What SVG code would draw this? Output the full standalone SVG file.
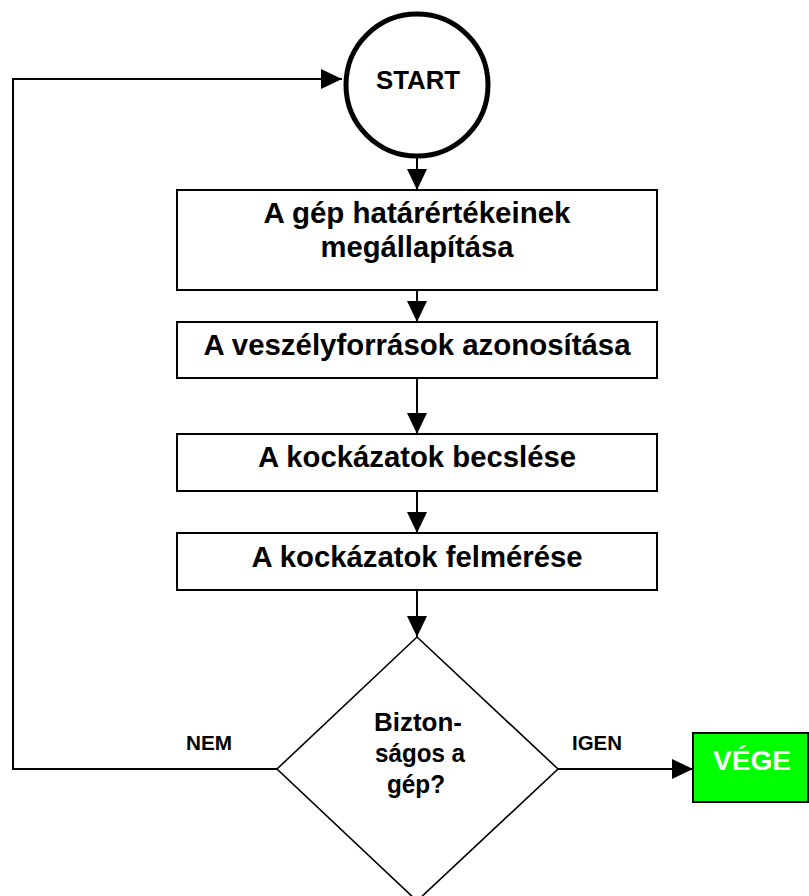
<svg xmlns="http://www.w3.org/2000/svg" width="809" height="896" viewBox="0 0 809 896">
  <defs>
    <marker id="arrow" viewBox="0 0 21 20" refX="21" refY="10" markerWidth="21" markerHeight="20" markerUnits="userSpaceOnUse" orient="auto">
      <path d="M0,0 L21,10 L0,20 Z" fill="#000"/>
    </marker>
    <style>
      text { font-family: "Liberation Sans", Arial, sans-serif; font-weight: bold; fill: #000; text-anchor: middle; }
      .box { fill: #fff; stroke: #000; stroke-width: 2; }
      .bt { font-size: 29px; }
      .conn { fill: none; stroke: #000; stroke-width: 2; }
      .lbl { font-size: 20px; }
      .dt { font-size: 25.5px; }
    </style>
  </defs>
  <rect width="809" height="896" fill="#fff"/>

  <g id="connectors">
    <path class="conn" d="M277,769 H13 V79 H342" marker-end="url(#arrow)"/>
    <path class="conn" d="M417,158 V190" marker-end="url(#arrow)"/>
    <path class="conn" d="M417,290 V322" marker-end="url(#arrow)"/>
    <path class="conn" d="M417,378 V434" marker-end="url(#arrow)"/>
    <path class="conn" d="M417,491 V533" marker-end="url(#arrow)"/>
    <path class="conn" d="M417,590 V637" marker-end="url(#arrow)"/>
    <path class="conn" d="M558,769 H693" marker-end="url(#arrow)"/>
    <text class="lbl" x="209" y="750" textLength="46" lengthAdjust="spacingAndGlyphs">NEM</text>
    <text class="lbl" x="597" y="750" textLength="50" lengthAdjust="spacingAndGlyphs">IGEN</text>
  </g>

  <g id="start">
    <circle cx="417" cy="85" r="71" fill="#fff" stroke="#000" stroke-width="5"/>
    <text x="418" y="89" font-size="25.5" textLength="84" lengthAdjust="spacingAndGlyphs">START</text>
  </g>

  <g id="step1">
    <rect class="box" x="177" y="190" width="480" height="100"/>
    <text class="bt" x="417" y="223" textLength="307" lengthAdjust="spacingAndGlyphs">A gép határértékeinek</text>
    <text class="bt" x="417" y="257" textLength="193" lengthAdjust="spacingAndGlyphs">megállapítása</text>
  </g>

  <g id="step2">
    <rect class="box" x="177" y="322" width="480" height="56"/>
    <text class="bt" x="417" y="355" textLength="427" lengthAdjust="spacingAndGlyphs">A veszélyforrások azonosítása</text>
  </g>

  <g id="step3">
    <rect class="box" x="177" y="434" width="480" height="57"/>
    <text class="bt" x="417" y="467" textLength="318" lengthAdjust="spacingAndGlyphs">A kockázatok becslése</text>
  </g>

  <g id="step4">
    <rect class="box" x="177" y="533" width="480" height="57"/>
    <text class="bt" x="417" y="567" textLength="331" lengthAdjust="spacingAndGlyphs">A kockázatok felmérése</text>
  </g>

  <g id="decision">
    <polygon points="417,637 558,769 417,901 277,769" fill="#fff" stroke="#000" stroke-width="1.6"/>
    <text class="dt" x="418" y="731" textLength="88" lengthAdjust="spacingAndGlyphs">Bizton-</text>
    <text class="dt" x="420" y="762" textLength="90" lengthAdjust="spacingAndGlyphs">ságos a</text>
    <text class="dt" x="416" y="793" textLength="58" lengthAdjust="spacingAndGlyphs">gép?</text>
  </g>

  <g id="end">
    <rect x="693" y="733" width="115" height="69" fill="#00ff00" stroke="#000" stroke-width="2"/>
    <text x="752" y="770" font-size="28" textLength="78" lengthAdjust="spacingAndGlyphs" style="fill:#fff">VÉGE</text>
  </g>
</svg>
